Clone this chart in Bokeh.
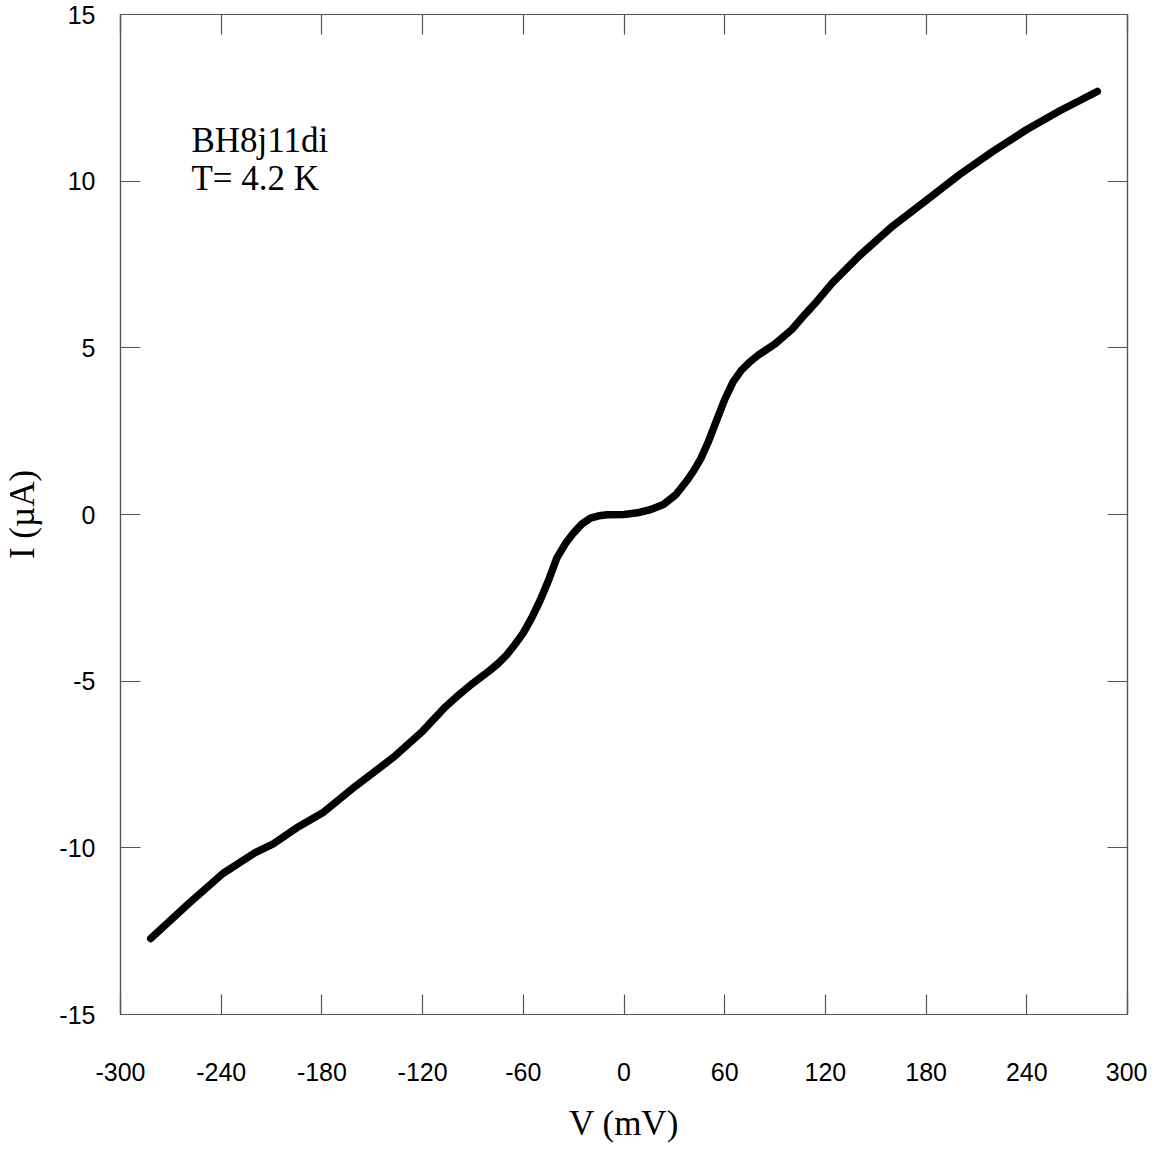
from bokeh.plotting import figure
from bokeh.models import Range1d, FixedTicker, LinearAxis, Label, PrintfTickFormatter, CustomJSTickFormatter
from bokeh.embed import file_html
from bokeh.resources import INLINE

# Data (V in mV, I in µA)
voltage = [-282, -260, -239, -220, -209, -195, -179, -160, -137, -120, -107, -100,
           -90, -80, -75, -70, -65, -60, -55, -50, -45, -40, -35, -30, -25, -20,
           -15, -10, 0, 8, 16, 23.5, 31, 38, 42, 46, 50, 55, 60, 65, 70, 75, 80,
           90, 100, 106, 115, 124, 140, 160, 180, 200, 220, 240, 260, 282]
current = [-12.72, -11.7, -10.77, -10.15, -9.88, -9.4, -8.93, -8.15, -7.27, -6.5,
           -5.8, -5.48, -5.06, -4.68, -4.47, -4.22, -3.9, -3.55, -3.1, -2.58,
           -1.98, -1.3, -0.88, -0.55, -0.28, -0.11, -0.04, -0.01, 0.0, 0.05, 0.15,
           0.3, 0.6, 1.05, 1.35, 1.7, 2.15, 2.8, 3.45, 3.98, 4.33, 4.58, 4.78,
           5.12, 5.55, 5.9, 6.4, 6.94, 7.75, 8.65, 9.42, 10.2, 10.9, 11.55, 12.12,
           12.69]

x_ticks = [-300, -240, -180, -120, -60, 0, 60, 120, 180, 240, 300]
y_ticks = [-15, -10, -5, 0, 5, 10, 15]
sample_line1 = "BH8j11di"
sample_line2 = "T= 4.2 K"

FRAME = "#555555"
SANS = "Liberation Sans"
SERIF = "Liberation Serif"

p = figure(frame_width=1007, frame_height=1000,
           x_range=Range1d(-300, 300), y_range=Range1d(-15, 15),
           output_backend="svg", toolbar_location=None,
           min_border_left=119, min_border_top=14, min_border_right=20,
           min_border_bottom=110)
p.background_fill_color = "white"
p.border_fill_color = "white"
p.outline_line_color = FRAME
p.outline_line_width = 1.2
p.grid.visible = False

p.line(voltage, current, line_color="black", line_width=7.5,
       line_cap="round", line_join="round")

def style_axis(ax, ticks, show_labels):
    ax.ticker = FixedTicker(ticks=ticks)
    ax.axis_line_color = FRAME
    ax.axis_line_width = 1.2
    ax.major_tick_line_color = FRAME
    ax.major_tick_line_width = 1.2
    ax.major_tick_in = 20
    ax.major_tick_out = 0
    ax.minor_tick_line_color = None
    if show_labels:
        ax.formatter = PrintfTickFormatter(format="%d")
        ax.major_label_text_font = SANS
        ax.major_label_text_font_size = "25px"
        ax.major_label_text_color = "black"
        ax.axis_label_text_font = SERIF
        ax.axis_label_text_font_size = "35px"
        ax.axis_label_text_font_style = "normal"
        ax.axis_label_text_color = "black"
    else:
        ax.formatter = CustomJSTickFormatter(code="return ''")
        ax.major_label_standoff = 0

xa = p.xaxis[0]
ya = p.yaxis[0]
style_axis(xa, x_ticks, True)
style_axis(ya, y_ticks, True)
xa.axis_label = "V (mV)"
ya.axis_label = "I (µA)"
xa.major_label_standoff = 48
xa.axis_label_standoff = 20
ya.major_label_standoff = 25
ya.axis_label_standoff = 14

top_ax = LinearAxis()
right_ax = LinearAxis()
style_axis(top_ax, x_ticks, False)
style_axis(right_ax, y_ticks, False)
p.add_layout(top_ax, "above")
p.add_layout(right_ax, "right")

p.add_layout(Label(x=-257.7, y=11.8, text=sample_line1, text_font=SERIF,
                   text_font_size="35px", text_baseline="top", text_color="black"))
p.add_layout(Label(x=-257.7, y=10.68, text=sample_line2, text_font=SERIF,
                   text_font_size="35px", text_baseline="top", text_color="black"))

open("out.html", "w").write(file_html(p, INLINE))
